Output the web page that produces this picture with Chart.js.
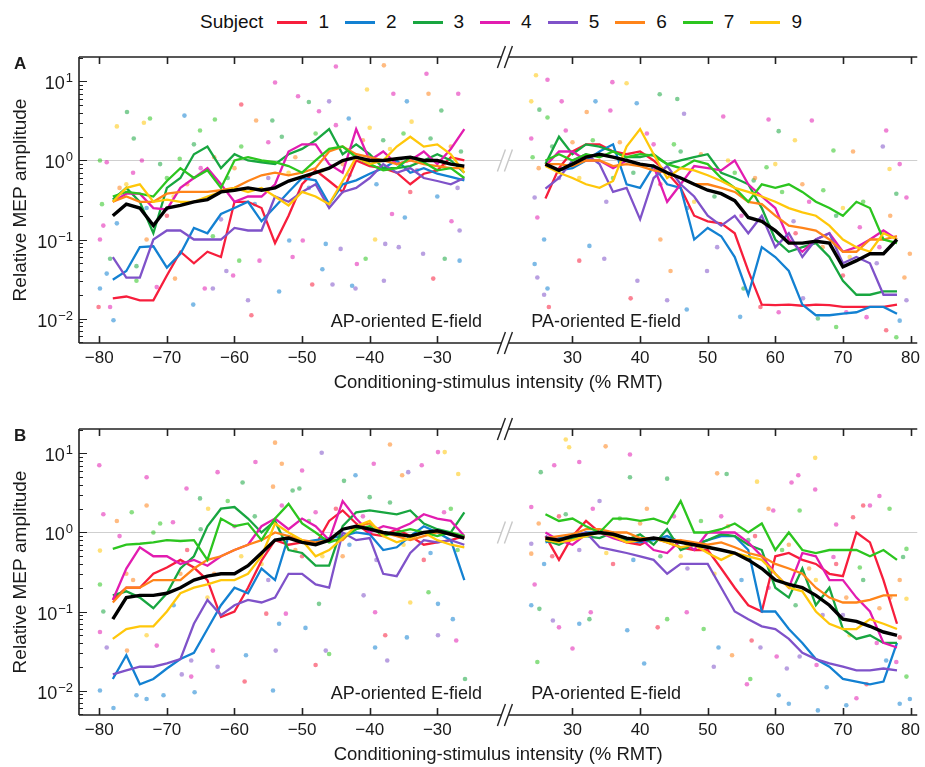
<!DOCTYPE html>
<html>
<head>
<meta charset="utf-8">
<script src="https://cdn.jsdelivr.net/npm/chart.js@4.4.0/dist/chart.umd.min.js"></script>
<style>
  body { margin: 0; background: #fff; width: 925px; height: 767px; position: relative; overflow: hidden;
         font-family: "Liberation Sans", Arial, sans-serif; color: #111; }
  #legend { position: absolute; left: 200px; top: 9px; height: 26px; display: flex; align-items: center; font-size: 19px; }
  #legend .item { display: flex; align-items: center; margin-left: 16px; }
  #legend .ttl { margin-right: -2px; }
  #legend i { display: inline-block; width: 30px; height: 3px; margin-right: 11px; }
  .panel { position: absolute; left: 0; width: 925px; height: 355px; }
</style>
</head>
<body>
<div id="legend"></div>
<div class="panel" style="top:40px"><canvas id="chartA" width="925" height="355"></canvas></div>
<div class="panel" style="top:412px"><canvas id="chartB" width="925" height="355"></canvas></div>
<script>
// subjects and colours
const subjects = ['1', '2', '3', '4', '5', '6', '7', '9'];
const subjectColors = ['#f71e3c', '#1381d2', '#18a640', '#e21cb0', '#7f52c9', '#ff8419', '#2cc51f', '#ffc70a'];

// conditioning-stimulus intensities (% RMT)
const xLeft = [-78, -76, -74, -72, -70, -68, -66, -64, -62, -60, -58, -56, -54, -52, -50, -48, -46, -44, -42, -40, -38, -36, -34, -32, -30, -28, -26];
const xRight = [26, 28, 30, 32, 34, 36, 38, 40, 42, 44, 46, 48, 50, 52, 54, 56, 58, 60, 62, 64, 66, 68, 70, 72, 74, 76, 78];
const xTickValues = [-80, -70, -60, -50, -40, -30, 30, 40, 50, 60, 70, 80];
const yMajorTicks = [0.01, 0.1, 1, 10];
const yMinorTicks = [0.005, 0.006, 0.007, 0.008, 0.009, 0.02, 0.03, 0.04, 0.05, 0.06, 0.07, 0.08, 0.09,
  0.2, 0.3, 0.4, 0.5, 0.6, 0.7, 0.8, 0.9, 2, 3, 4, 5, 6, 7, 8, 9, 20];

// panel A, AP-oriented (left)
const aLeft1 = [0.018, 0.019, 0.017, 0.017, 0.035, 0.07, 0.05, 0.07, 0.06, 0.3, 0.3, 0.25, 0.09, 0.2, 0.5, 0.75, 0.55, 0.4, 1.0, 0.85, 0.8, 0.7, 0.5, 0.68, 0.75, 1.1, 1.0];
const aLeft2 = [0.031, 0.04, 0.08, 0.082, 0.044, 0.066, 0.14, 0.12, 0.21, 0.25, 0.3, 0.17, 0.26, 0.4, 0.6, 0.56, 0.28, 0.5, 0.56, 0.68, 0.8, 1.0, 0.7, 0.8, 0.68, 0.62, 0.56];
const aLeft3 = [0.32, 0.45, 0.3, 0.12, 0.45, 0.6, 1.2, 1.5, 0.8, 1.2, 1.0, 0.95, 0.9, 1.2, 1.4, 1.8, 2.5, 1.2, 1.6, 1.2, 0.8, 0.8, 0.85, 1.0, 1.2, 1.0, 0.7];
const aLeft4 = [0.3, 0.38, 0.38, 0.25, 0.24, 0.45, 0.6, 0.8, 0.5, 0.3, 0.35, 0.35, 0.5, 1.3, 1.6, 1.6, 0.9, 0.7, 2.5, 1.0, 1.3, 0.9, 1.0, 1.3, 0.9, 1.4, 2.5];
const aLeft5 = [0.06, 0.033, 0.033, 0.1, 0.13, 0.13, 0.1, 0.1, 0.1, 0.14, 0.13, 0.13, 0.35, 0.3, 0.4, 0.5, 0.25, 0.4, 0.45, 0.6, 0.9, 0.7, 0.8, 0.6, 0.55, 0.5, 0.6];
const aLeft6 = [0.3, 0.35, 0.3, 0.3, 0.38, 0.4, 0.4, 0.4, 0.42, 0.45, 0.55, 0.65, 0.7, 0.65, 0.7, 0.8, 1.3, 1.5, 1.2, 1.1, 1.0, 0.9, 1.0, 0.9, 0.85, 0.8, 0.8];
const aLeft7 = [0.35, 0.4, 0.38, 0.35, 0.55, 0.8, 0.6, 0.75, 0.45, 1.0, 1.1, 1.0, 0.95, 0.85, 0.7, 1.0, 1.4, 1.5, 1.1, 0.9, 0.75, 0.8, 1.1, 0.95, 0.75, 0.8, 0.6];
const aLeft9 = [0.3, 0.45, 0.5, 0.3, 0.32, 0.3, 0.3, 0.35, 0.4, 0.45, 0.4, 0.45, 0.35, 0.27, 0.4, 0.35, 0.28, 0.55, 1.1, 0.9, 1.0, 1.5, 2.0, 1.5, 1.6, 1.2, 0.7];
const aLeftMean = [0.2, 0.28, 0.25, 0.15, 0.25, 0.27, 0.3, 0.32, 0.4, 0.42, 0.45, 0.42, 0.45, 0.55, 0.62, 0.7, 0.8, 1.0, 1.1, 1.0, 1.0, 1.05, 1.1, 1.0, 1.0, 0.9, 0.85];

// panel A, PA-oriented (right)
const aRight1 = [0.33, 0.8, 1.3, 1.6, 1.6, 1.3, 1.2, 1.3, 1.0, 0.7, 0.45, 0.2, 0.17, 0.16, 0.12, 0.04, 0.015, 0.0148, 0.015, 0.0145, 0.015, 0.0148, 0.014, 0.014, 0.014, 0.014, 0.015];
const aRight2 = [0.9, 0.75, 0.8, 1.0, 1.3, 1.6, 0.5, 0.45, 0.85, 0.5, 0.45, 0.1, 0.14, 0.11, 0.06, 0.02, 0.08, 0.06, 0.04, 0.015, 0.011, 0.011, 0.0115, 0.012, 0.014, 0.014, 0.0115];
const aRight3 = [0.9, 2.0, 1.2, 1.6, 1.5, 1.3, 1.1, 1.1, 1.2, 0.9, 1.0, 1.1, 1.2, 0.7, 0.6, 0.5, 0.25, 0.1, 0.07, 0.08, 0.09, 0.06, 0.03, 0.02, 0.02, 0.022, 0.022];
const aRight4 = [0.85, 1.3, 1.3, 1.0, 1.0, 0.8, 1.0, 0.9, 0.85, 0.3, 0.5, 0.85, 0.8, 0.75, 1.0, 0.5, 0.35, 0.25, 0.1, 0.07, 0.1, 0.12, 0.07, 0.08, 0.1, 0.13, 0.1];
const aRight5 = [0.44, 0.6, 1.0, 1.2, 0.9, 0.4, 0.45, 0.18, 0.6, 0.85, 0.5, 0.35, 0.2, 0.15, 0.2, 0.12, 0.2, 0.08, 0.12, 0.06, 0.1, 0.12, 0.05, 0.06, 0.05, 0.02, 0.02];
const aRight6 = [0.9, 0.9, 0.85, 1.0, 1.0, 0.85, 0.9, 0.85, 0.75, 0.7, 0.6, 0.5, 0.5, 0.45, 0.4, 0.3, 0.28, 0.2, 0.15, 0.14, 0.13, 0.1, 0.07, 0.07, 0.1, 0.1, 0.11];
const aRight7 = [1.0, 1.2, 1.0, 1.2, 1.1, 1.3, 1.1, 1.2, 1.15, 0.9, 0.8, 1.0, 0.9, 0.6, 0.45, 0.3, 0.5, 0.45, 0.5, 0.4, 0.3, 0.25, 0.2, 0.3, 0.25, 0.1, 0.09];
const aRight9 = [0.85, 0.7, 0.6, 0.5, 0.45, 0.55, 1.5, 2.5, 1.2, 0.6, 0.8, 0.75, 0.65, 0.55, 0.45, 0.4, 0.35, 0.3, 0.25, 0.22, 0.2, 0.15, 0.1, 0.08, 0.07, 0.12, 0.1];
const aRightMean = [0.9, 0.75, 0.9, 1.1, 1.2, 1.1, 1.0, 0.9, 0.85, 0.7, 0.6, 0.5, 0.42, 0.38, 0.31, 0.19, 0.17, 0.13, 0.09, 0.09, 0.095, 0.09, 0.045, 0.054, 0.066, 0.066, 0.1];

// panel B, AP-oriented (left)
const bLeft1 = [0.14, 0.2, 0.2, 0.3, 0.36, 0.45, 0.36, 0.25, 0.085, 0.1, 0.2, 0.44, 0.8, 0.7, 0.75, 0.7, 1.4, 1.9, 1.3, 0.96, 0.9, 1.1, 0.9, 0.7, 0.75, 0.8, 0.9];
const bLeft2 = [0.014, 0.028, 0.012, 0.014, 0.019, 0.025, 0.03, 0.06, 0.12, 0.2, 0.17, 0.35, 0.25, 0.9, 0.75, 0.8, 0.85, 0.9, 1.0, 0.95, 0.6, 0.65, 0.9, 1.2, 1.0, 0.8, 0.25];
const bLeft3 = [0.16, 0.18, 0.15, 0.11, 0.17, 0.35, 0.5, 1.2, 2.0, 2.1, 1.5, 1.0, 1.4, 0.6, 0.55, 0.38, 0.38, 1.2, 1.8, 1.9, 1.8, 1.7, 1.9, 1.3, 1.1, 1.0, 1.8];
const bLeft4 = [0.14, 0.35, 0.65, 0.5, 0.5, 0.4, 0.45, 0.38, 0.5, 0.6, 0.7, 1.2, 1.5, 1.1, 1.5, 1.2, 0.8, 2.5, 1.5, 1.0, 1.2, 1.1, 1.3, 1.7, 1.5, 1.4, 0.9];
const bLeft5 = [0.016, 0.018, 0.02, 0.02, 0.022, 0.025, 0.07, 0.14, 0.09, 0.12, 0.14, 0.13, 0.15, 0.3, 0.3, 0.22, 0.2, 1.0, 0.8, 0.85, 0.3, 0.28, 0.55, 0.8, 0.75, 0.8, 0.7];
const bLeft6 = [0.13, 0.2, 0.2, 0.25, 0.25, 0.25, 0.35, 0.45, 0.5, 0.6, 0.7, 0.8, 1.0, 0.9, 0.8, 0.75, 0.8, 0.8, 1.2, 1.3, 1.0, 0.9, 0.8, 0.9, 1.0, 0.95, 0.85];
const bLeft7 = [0.62, 0.7, 0.72, 0.75, 0.8, 0.78, 0.8, 0.45, 1.5, 1.2, 1.3, 0.8, 1.5, 2.3, 1.3, 1.0, 0.75, 0.85, 1.1, 1.2, 0.9, 1.0, 1.1, 1.0, 0.9, 1.0, 0.9];
const bLeft9 = [0.045, 0.06, 0.065, 0.065, 0.1, 0.17, 0.2, 0.22, 0.25, 0.25, 0.3, 0.5, 1.3, 1.0, 0.8, 0.5, 0.6, 0.85, 1.2, 1.4, 0.9, 0.75, 0.85, 1.0, 0.8, 0.7, 0.65];
const bLeftMean = [0.08, 0.15, 0.16, 0.16, 0.17, 0.2, 0.25, 0.28, 0.3, 0.3, 0.38, 0.55, 0.8, 0.85, 0.75, 0.7, 0.8, 1.1, 1.2, 1.1, 1.0, 0.95, 0.9, 1.0, 1.05, 0.95, 0.85];

// panel B, PA-oriented (right)
const bRight1 = [0.9, 0.45, 0.9, 1.4, 1.0, 0.9, 0.75, 0.7, 0.85, 0.75, 0.65, 0.6, 0.6, 0.35, 0.2, 0.12, 0.1, 0.5, 0.55, 0.45, 0.4, 0.3, 0.28, 1.0, 0.75, 0.25, 0.07];
const bRight2 = [0.75, 0.85, 0.9, 1.0, 1.0, 0.95, 0.8, 0.75, 0.8, 0.9, 0.75, 0.7, 0.8, 0.9, 0.9, 0.6, 0.1, 0.1, 0.06, 0.04, 0.025, 0.02, 0.014, 0.013, 0.012, 0.013, 0.04];
const bRight3 = [0.8, 0.7, 0.85, 0.9, 0.85, 1.0, 0.8, 0.95, 0.7, 1.1, 0.6, 0.7, 0.8, 0.95, 0.9, 0.7, 0.6, 0.2, 0.15, 0.35, 0.12, 0.2, 0.06, 0.045, 0.05, 0.04, 0.04];
const bRight4 = [1.0, 0.8, 0.7, 0.95, 1.0, 0.85, 0.75, 0.85, 0.6, 0.55, 0.8, 0.6, 1.0, 1.0, 1.0, 0.75, 0.5, 0.3, 0.2, 0.55, 0.5, 0.25, 0.25, 0.15, 0.1, 0.04, 0.035];
const bRight5 = [0.9, 0.75, 0.9, 1.0, 0.65, 0.6, 0.55, 0.5, 0.45, 0.3, 0.4, 0.4, 0.4, 0.2, 0.1, 0.08, 0.065, 0.06, 0.045, 0.03, 0.025, 0.022, 0.02, 0.018, 0.018, 0.019, 0.018];
const bRight6 = [0.85, 0.9, 0.95, 1.1, 1.1, 1.0, 1.0, 0.85, 0.85, 0.8, 0.8, 0.75, 0.7, 0.75, 0.65, 0.55, 0.5, 0.4, 0.35, 0.3, 0.2, 0.15, 0.13, 0.13, 0.14, 0.16, 0.16];
const bRight7 = [1.7, 1.4, 1.5, 1.2, 1.0, 1.5, 1.5, 1.4, 1.5, 1.3, 2.5, 1.0, 1.0, 1.1, 1.3, 1.0, 1.3, 0.6, 1.0, 0.6, 0.55, 0.6, 0.6, 0.6, 0.5, 0.6, 0.45];
const bRight9 = [0.8, 0.75, 0.8, 0.9, 1.0, 0.9, 0.75, 0.8, 0.85, 0.75, 0.65, 0.7, 0.55, 0.45, 0.55, 0.5, 0.45, 0.3, 0.2, 0.18, 0.1, 0.07, 0.06, 0.06, 0.08, 0.07, 0.06];
const bRightMean = [0.85, 0.8, 0.9, 0.95, 1.0, 0.95, 0.85, 0.8, 0.85, 0.8, 0.75, 0.7, 0.65, 0.6, 0.55, 0.45, 0.35, 0.25, 0.22, 0.2, 0.16, 0.12, 0.08, 0.075, 0.065, 0.055, 0.05];

// single trials: [intensity, amplitude, subject]
const dotsA = [
  [-45.0,15.5,4],[-37.9,16,6],[-31.6,12.5,4],[-54.0,9.7,4],[-26.9,7,4],[-40.4,7.9,9],[-50.6,6.5,4],[-49.0,5.5,3],[-46.0,5.6,5],[-36.5,7,4],
  [-34.5,5.6,2],[-31.3,7,6],[-75.9,4.1,3],[-59.0,5.1,1],[-73.4,3,9],[-72.5,3.4,7],[-67.4,3.7,2],[-62.9,3.3,7],[-54.4,3.2,3],[-77.4,2.7,9],
  [-74.9,1.9,3],[-65.1,2.4,7],[-56.8,3.2,6],[-47.5,4.2,4],[-43.1,3.4,2],[-29.4,4.3,3],[-33.8,3.1,9],[-79.9,1.0,7],[-78.9,0.95,4],[-73.7,1.0,4],
  [-68.1,1.05,7],[-79.6,0.28,7],[-79.4,0.15,4],[-77.4,0.16,2],[-79.9,0.1,4],[-78.4,0.057,3],[-78.9,0.037,2],[-79.9,0.024,2],[-80.1,0.014,1],[-78.4,0.014,4],
  [-77.9,0.0095,2],[-71.5,0.025,4],[-66.1,0.015,2],[-57.5,0.011,1],[-58.0,0.017,5],[-53.4,0.022,2],[-59.3,0.054,7],[-56.3,0.054,4],[-47.0,0.042,2],[-48.5,0.027,1],
  [-45.5,0.027,5],[-42.6,0.026,2],[-42.1,0.024,5],[-37.9,0.03,5],[-40.6,0.057,7],[-41.9,0.049,4],[-39.2,0.1,9],[-37.7,0.088,5],[-35.7,0.08,5],[-32.1,0.066,5],
  [-28.9,0.057,3],[-26.7,0.054,2],[-30.6,0.032,1],[-34.8,0.19,2],[-36.7,0.21,4],[-27.9,0.17,4],[-26.7,0.13,5],[-51.4,0.06,4],[-49.9,0.097,4],[-51.9,0.097,2],
  [-46.5,0.088,2],[-44.3,0.076,5],[-63.2,0.11,7],[-61.2,0.04,5],[-60.2,0.035,4],[-64.4,0.024,4],[-63.2,0.024,5],[-68.8,0.032,6],[-74.5,0.03,7],[-74.5,0.046,3],
  [-73.0,0.1,6],[-70,0.6,7],[-66,1.6,3],[-60,0.8,6],[-55,1.7,4],[-52,0.7,9],[-44,0.9,6],[-38,1.8,3],[-34,0.4,1],[-30,0.35,2],
  [-28,1.5,6],[-76,0.5,9],[-70,0.2,1],[-62,0.18,5],[-48,2.2,7],[-40,2.6,9],[-26.5,1.3,3],
  [-77,0.45,6],[-75,0.7,4],[-73,0.25,2],[-71,0.9,3],[-69,0.35,9],[-67,0.5,6],[-65,0.8,4],[-63,1.1,6],[-61,0.6,3],[-59,1.5,7],
  [-57,0.28,2],[-55,0.6,5],[-53,2.0,3],[-51,1.1,6],[-49,0.45,2],[-47,0.75,9],[-45,2.8,4],[-43,0.65,5],[-41,1.8,6],[-39,0.5,2],
  [-37,1.4,9],[-35,2.2,7],[-33,0.75,4],[-31,1.9,3],[-29,0.9,6],[-27,0.45,5],
  [24.6,12,9],[26.3,10.5,4],[35.9,9.8,4],[38.0,9.5,9],[42.9,6.9,3],[45.5,6.0,3],[33.4,5.6,2],[39.5,5.3,2],[23.9,5.6,9],[28.4,5.6,4],
  [32.1,4.1,6],[25.1,4.4,3],[26.3,3.5,7],[35.6,4.3,4],[46.5,3.9,5],[52.3,3.6,4],[59.0,3.3,4],[65.4,3.2,4],[60.5,2.35,3],[76.4,2.4,4],
  [75.9,1.5,5],[62.9,1.8,9],[71.5,1.3,6],[68.6,1.34,7],[23.9,1.9,4],[24.1,1.1,7],[76.9,0.78,9],[78.4,0.9,4],[77.9,0.38,3],[79.4,0.34,4],
  [67.1,0.42,7],[58.7,0.82,7],[56.8,0.56,3],[24.4,0.34,5],[24.8,0.19,4],[25.8,0.1,2],[32.5,0.083,2],[24.4,0.049,2],[24.8,0.033,5],[26.3,0.024,2],
  [25.8,0.02,5],[26.5,0.014,1],[31.0,0.054,1],[34.7,0.057,5],[39.6,0.03,5],[38.6,0.018,1],[44.0,0.017,5],[46.9,0.013,2],[43.0,0.1,6],[44.5,0.04,6],
  [49.9,0.04,5],[55.3,0.024,3],[54.8,0.0105,2],[57.8,0.014,1],[60.5,0.012,4],[64.1,0.018,5],[66.3,0.01,3],[69.0,0.0078,7],[70.5,0.012,4],[73.5,0.0104,4],
  [76.4,0.0071,1],[77.9,0.0058,7],[78.4,0.0094,2],[79.4,0.017,5],[79.9,0.066,6],[79.1,0.033,6],[75.4,0.08,4],[70.0,0.035,1],[72.5,0.143,4],[62.7,0.17,5],
  [51.4,0.08,5],[30,1.7,6],[36,0.6,7],[42,1.6,4],[48,0.3,9],[54,0.7,7],[64,0.5,6],[70,0.25,9],[28,0.6,5],[46,1.3,3],[60,0.9,9],
  [25,0.8,6],[27,1.5,3],[29,2.4,4],[31,0.6,9],[33,1.8,7],[35,0.3,5],[37,1.7,6],[39,0.7,3],[41,2.2,4],[43,0.5,1],
  [45,1.6,7],[47,0.25,2],[49,1.2,6],[51,0.35,3],[53,1.0,9],[55,0.2,4],[57,0.6,6],[59,0.15,3],[61,0.4,7],[63,0.12,1],
  [65,0.3,4],[67,0.08,6],[69,0.2,3],[71,0.06,9],[73,0.3,7],[75,0.05,5],[77,0.2,6]
];
const dotsB = [
  [-80,7.1,4],[-73.0,5.0,4],[-67.1,3.6,4],[-62.5,5.8,4],[-56.9,7.8,4],[-54.0,13.7,6],[-53.0,7.4,6],[-47.1,10.2,5],[-37.0,13,6],[-39.4,7.4,4],
  [-32.3,7.1,4],[-29.9,10.4,4],[-28.9,10.4,9],[-26.9,5.5,9],[-50.0,6.1,4],[-42.1,5.3,2],[-43.8,4.5,3],[-34.3,5.8,5],[-35.2,5.3,6],[-51.4,3.4,3],
  [-50.4,3.6,3],[-58.8,4.3,3],[-54.3,3.8,6],[-65.1,2.7,3],[-63.9,2.0,9],[-73.0,2.2,6],[-75.2,1.8,7],[-79.4,1.7,4],[-77.4,1.4,6],[-69.1,1.35,4],
  [-79.9,0.59,9],[-79.9,0.22,7],[-79.4,0.1,3],[-79.9,0.055,4],[-78.9,0.035,5],[-79.9,0.01,2],[-77.9,0.006,2],[-73.0,0.0078,2],[-74.5,0.0087,2],[-70.5,0.0087,2],
  [-75.9,0.032,6],[-71.5,0.037,4],[-65.9,0.0095,2],[-67.8,0.016,5],[-66.4,0.015,4],[-66.4,0.024,5],[-63.2,0.032,4],[-62.5,0.02,5],[-58.3,0.028,2],[-58.5,0.013,1],
  [-53.9,0.032,5],[-54.3,0.01,2],[-49.5,0.062,2],[-48.0,0.021,1],[-46.5,0.032,5],[-46.0,0.029,7],[-55.3,0.094,1],[-52.4,0.094,4],[-53.4,0.07,2],[-47.5,0.125,3],
  [-39.2,0.035,2],[-37.7,0.05,1],[-37.4,0.024,5],[-34.5,0.047,2],[-29.9,0.05,5],[-27.2,0.043,4],[-27.7,0.08,2],[-25.9,0.014,3],[-31.3,0.175,7],[-34.0,0.13,9],
  [-40.9,0.16,5],[-39.2,0.098,4],[-29.9,0.125,2],[-72,1.0,7],[-68,0.3,6],[-60,1.2,4],[-56,0.4,9],[-50,0.5,1],[-44,0.5,6],[-40,2.8,3],
  [-32,0.45,1],[-28,2.0,7],[-76,0.3,6],[-64,0.15,9],[-48,1.8,4],
  [-77,0.9,4],[-75,0.25,6],[-73,0.05,9],[-71,1.3,7],[-69,0.12,2],[-67,0.6,1],[-65,1.1,3],[-63,0.3,6],[-61,2.5,7],[-59,0.5,9],
  [-57,1.6,3],[-55,0.25,5],[-53,2.2,4],[-51,0.6,6],[-49,1.4,7],[-47,0.5,9],[-45,2.0,1],[-43,0.7,2],[-41,1.6,4],[-39,0.45,5],
  [-37,2.4,3],[-35,0.7,9],[-33,1.5,6],[-31,0.55,2],[-29,1.8,4],[-27,0.6,7],
  [29.0,15,9],[29.5,12,9],[34.9,12.3,6],[38.5,9.7,4],[65.9,8.8,9],[27.3,7.1,4],[31.0,7.8,4],[25.3,5.8,3],[38.5,5.0,3],[44.0,4.8,3],
  [51.4,5.6,6],[52.8,5.5,3],[57.3,4.4,9],[63.4,5.3,4],[62.4,4.3,4],[65.9,3.5,4],[75.4,2.9,4],[76.9,2.0,7],[73.0,2.2,1],[74.0,2.2,4],
  [69.0,1.26,4],[71.5,1.56,1],[59.0,2.0,6],[59.7,1.9,4],[63.6,1.9,7],[23.9,2.1,4],[23.9,0.72,5],[23.9,0.54,6],[25.8,0.4,2],[24.4,0.22,4],
  [23.9,0.12,2],[25.1,0.108,3],[24.8,0.023,7],[30.0,0.034,4],[27.1,0.077,5],[28.0,0.063,4],[31.0,0.07,2],[32.5,0.08,3],[32.7,0.098,4],[38.1,0.058,2],
  [40.6,0.022,2],[42.6,0.063,1],[44.0,0.08,7],[46.9,0.098,4],[49.4,0.06,7],[51.6,0.035,2],[50.9,0.02,5],[53.6,0.028,6],[56.5,0.043,1],[57.8,0.035,5],
  [56.3,0.014,7],[55.8,0.012,4],[60.5,0.0087,2],[62.0,0.0068,2],[60.2,0.027,4],[61.7,0.019,5],[63.6,0.027,5],[66.1,0.021,4],[67.6,0.011,2],[66.3,0.0056,2],
  [70.5,0.0065,2],[72.0,0.008,4],[73.5,0.012,1],[76.4,0.024,2],[78.4,0.0068,2],[79.9,0.0078,2],[79.4,0.015,7],[77.9,0.023,4],[78.4,0.047,1],[75.4,0.11,6],
  [79.4,0.145,9],[78.4,0.25,6],[79.4,0.62,7],[78.9,0.49,3],[72.5,0.36,7],[70.5,0.15,6],[68.6,0.49,4],[28,1.6,1],[34,2.5,5],[40,1.3,6],
  [46,0.5,9],[52,1.6,4],[56,0.8,3],[62,0.7,6],[66,0.25,9],[70,0.09,5],[36,0.4,1],
  [25,1.3,6],[27,0.5,1],[29,1.7,3],[31,0.6,5],[33,2.0,4],[35,0.55,9],[37,1.5,7],[39,0.45,2],[41,2.0,6],[43,0.5,3],
  [45,1.6,4],[47,0.35,5],[49,1.4,7],[51,0.3,9],[53,1.2,6],[55,0.25,2],[57,0.9,1],[59,0.2,4],[61,0.6,7],[63,0.12,3],
  [65,0.35,6],[67,0.09,5],[69,0.4,1],[71,0.05,9],[73,0.25,3],[75,0.04,4],[77,0.15,6]
];

const FONT = '"Liberation Sans", Arial, sans-serif';
Chart.defaults.font.family = FONT;
Chart.defaults.color = '#1a1a1a';

// the two halves of the axis share one scale: PA values are drawn 40 units to the left
const GAP = 40;
const BREAK = -20;
const shiftX = v => (v > 0 ? v - GAP : v);
const fmt = n => (n < 0 ? '\u2212' + Math.abs(n) : String(n));

function hexToRgba(hex, a) {
  const n = parseInt(hex.slice(1), 16);
  return `rgba(${(n >> 16) & 255},${(n >> 8) & 255},${n & 255},${a})`;
}

function halfLine(left, right) {
  const pts = xLeft.map((x, i) => ({ x: x, y: left[i] }));
  pts.push({ x: BREAK, y: null });
  xRight.forEach((x, i) => pts.push({ x: shiftX(x), y: right[i] }));
  return pts;
}

function slashes(ctx, cx, cy, h, color) {
  ctx.save();
  ctx.fillStyle = '#fff';
  ctx.fillRect(cx - 3.5, cy - 3, 7, 6);
  ctx.strokeStyle = color;
  ctx.lineWidth = 1.4;
  [-3.5, 3.5].forEach(d => {
    ctx.beginPath();
    ctx.moveTo(cx + d - 4, cy + h / 2);
    ctx.lineTo(cx + d + 4, cy - h / 2);
    ctx.stroke();
  });
  ctx.restore();
}

const framePlugin = {
  id: 'frame',
  beforeDatasetsDraw(chart) {
    const { ctx, chartArea: a, scales: { x, y } } = chart;
    const bx = x.getPixelForValue(BREAK);
    const py = Math.round(y.getPixelForValue(1)) + 0.5;
    ctx.save();
    ctx.strokeStyle = '#cfcfcf';
    ctx.lineWidth = 1.2;
    ctx.beginPath();
    ctx.moveTo(a.left, py); ctx.lineTo(bx - 3.5, py);
    ctx.moveTo(bx + 3.5, py); ctx.lineTo(a.right, py);
    ctx.stroke();
    ctx.restore();
    slashes(ctx, bx, py, 22, '#c8c8c8');
  },
  afterDatasetsDraw(chart, args, opts) {
    const { ctx, chartArea: a, scales: { x, y } } = chart;
    const bx = x.getPixelForValue(BREAK);
    ctx.save();
    ctx.strokeStyle = '#222';
    ctx.lineWidth = 1.6;
    ctx.beginPath();
    // frame: left, top and bottom, broken at the axis break
    ctx.moveTo(a.left, a.top); ctx.lineTo(a.left, a.bottom);
    [a.top, a.bottom].forEach(yy => {
      ctx.moveTo(a.left, yy); ctx.lineTo(bx - 3.5, yy);
      ctx.moveTo(bx + 3.5, yy); ctx.lineTo(a.right, yy);
    });
    // inward x ticks, top and bottom
    xTickValues.forEach(v => {
      const px = Math.round(x.getPixelForValue(shiftX(v))) + 0.5;
      ctx.moveTo(px, a.bottom); ctx.lineTo(px, a.bottom - 7);
      ctx.moveTo(px, a.top); ctx.lineTo(px, a.top + 7);
    });
    ctx.stroke();
    ctx.lineWidth = 1.2;
    ctx.beginPath();
    yMajorTicks.forEach(v => {
      const py = Math.round(y.getPixelForValue(v)) + 0.5;
      ctx.moveTo(a.left, py); ctx.lineTo(a.left + 8, py);
    });
    yMinorTicks.forEach(v => {
      const py = Math.round(y.getPixelForValue(v)) + 0.5;
      ctx.moveTo(a.left, py); ctx.lineTo(a.left + 4, py);
    });
    ctx.stroke();

    // y tick labels as powers of ten
    ctx.fillStyle = '#1a1a1a';
    ctx.textAlign = 'right';
    ctx.textBaseline = 'alphabetic';
    yMajorTicks.forEach(v => {
      const py = y.getPixelForValue(v);
      const e = fmt(Math.round(Math.log10(v)));
      ctx.font = '13px ' + FONT;
      const we = ctx.measureText(e).width;
      ctx.fillText(e, a.left - 6, py + 1);
      ctx.font = '18px ' + FONT;
      ctx.fillText('10', a.left - 7 - we, py + 8);
    });

    slashes(ctx, bx, a.top, 22, '#222');
    slashes(ctx, bx, a.bottom, 22, '#222');

    // panel letter and field orientation labels
    ctx.textAlign = 'left';
    ctx.font = 'bold 17px ' + FONT;
    ctx.fillText(opts.letter, 14, a.top + 12);
    ctx.font = '18px ' + FONT;
    ctx.textAlign = 'right';
    ctx.fillText('AP-oriented E-field', x.getPixelForValue(-23.4), a.bottom - 16);
    ctx.textAlign = 'left';
    ctx.fillText('PA-oriented E-field', x.getPixelForValue(shiftX(23.9)), a.bottom - 16);
    ctx.restore();
  }
};

function makeChart(id, letter, left, right, leftMean, rightMean, dots) {
  const datasets = [{
    type: 'line',
    data: halfLine(leftMean, rightMean),
    borderColor: '#000',
    borderWidth: 3.4,
    pointRadius: 0,
    order: 0
  }];
  subjects.forEach((s, i) => {
    datasets.push({
      type: 'line',
      label: s,
      data: halfLine(left[i], right[i]),
      borderColor: subjectColors[i],
      borderWidth: 2.3,
      pointRadius: 0,
      order: 8 - i
    });
  });
  datasets.push({
    type: 'scatter',
    data: dots.map(d => ({ x: shiftX(d[0]), y: d[1] })),
    pointRadius: 2.3,
    pointBorderWidth: 0,
    pointBackgroundColor: dots.map(d => hexToRgba(subjectColors[subjects.indexOf(String(d[2]))], 0.55)),
    order: 20
  });

  new Chart(document.getElementById(id), {
    type: 'line',
    data: { datasets },
    options: {
      responsive: false,
      animation: false,
      events: [],
      layout: { padding: { top: 17, right: 4, left: 0, bottom: 0 } },
      elements: { line: { tension: 0, fill: false } },
      plugins: { legend: { display: false }, tooltip: { enabled: false }, frame: { letter } },
      scales: {
        x: {
          type: 'linear',
          min: -83,
          max: 41,
          afterBuildTicks: s => { s.ticks = xTickValues.map(v => ({ value: shiftX(v) })); },
          afterFit: s => { s.height = 52; },
          grid: { display: false, drawTicks: false },
          border: { display: false },
          ticks: {
            autoSkip: false, maxRotation: 0, padding: 5,
            font: { size: 17 },
            callback: v => fmt(v > BREAK ? v + GAP : v)
          },
          title: {
            display: true,
            text: 'Conditioning-stimulus intensity (% RMT)',
            font: { size: 18.5 },
            padding: { top: 0, bottom: 1 }
          }
        },
        y: {
          type: 'logarithmic',
          min: 0.0049,
          max: 20.4,
          afterFit: s => { s.width = 79; },
          grid: { display: false, drawTicks: false },
          border: { display: false },
          ticks: { display: false },
          title: {
            display: true,
            text: 'Relative MEP amplitude',
            font: { size: 19 },
            padding: { top: 9, bottom: 0 }
          }
        }
      }
    },
    plugins: [framePlugin]
  });
}

makeChart('chartA', 'A',
  [aLeft1, aLeft2, aLeft3, aLeft4, aLeft5, aLeft6, aLeft7, aLeft9],
  [aRight1, aRight2, aRight3, aRight4, aRight5, aRight6, aRight7, aRight9],
  aLeftMean, aRightMean, dotsA);
makeChart('chartB', 'B',
  [bLeft1, bLeft2, bLeft3, bLeft4, bLeft5, bLeft6, bLeft7, bLeft9],
  [bRight1, bRight2, bRight3, bRight4, bRight5, bRight6, bRight7, bRight9],
  bLeftMean, bRightMean, dotsB);

// legend
document.getElementById('legend').innerHTML = '<span class="ttl">Subject</span>' +
  subjects.map((s, i) => `<span class="item"><i style="background:${subjectColors[i]}"></i>${s}</span>`).join('');
</script>
</body>
</html>
